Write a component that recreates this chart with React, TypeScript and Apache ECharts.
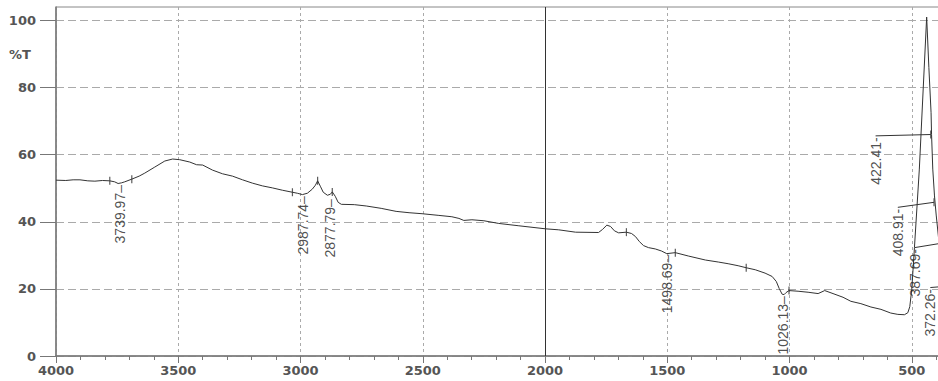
import React, { useEffect, useRef } from 'react';
import * as echarts from 'echarts';

// Spectrum (wavenumber cm-1, %T)
const wavenumbers = [
  4000, 3960, 3930, 3902, 3870, 3841, 3810, 3780, 3760, 3746, 3732, 3719, 3690, 3660, 3637, 3596, 3555, 3523,
  3494, 3453, 3425, 3400, 3360, 3319, 3278, 3237, 3196, 3156, 3115, 3074, 3033, 3013, 2992, 2972, 2952, 2939,
  2930, 2919, 2907, 2890, 2878, 2870, 2858, 2846, 2833, 2780, 2731, 2670, 2609, 2556, 2503, 2434, 2381, 2352,
  2332, 2299, 2250, 2189, 2107, 1998, 1944, 1875, 1781, 1765, 1747, 1732, 1716, 1699, 1667, 1646, 1630, 1614,
  1597, 1577, 1549, 1524, 1502, 1467, 1414, 1344, 1291, 1251, 1210, 1177, 1140, 1100, 1071, 1054, 1042, 1030,
  1022, 1014, 1002, 965, 924, 883, 856, 822, 781, 749, 708, 667, 626, 586, 557, 530, 516, 508, 500, 489, 469,
  439, 430, 421, 419, 414, 407, 400, 388, 380, 372, 360, 350,
];
const transmittance = [
  52.4, 52.3, 52.5, 52.5, 52.2, 52.1, 52.3, 52.2, 51.9, 51.4, 51.6, 51.9, 52.7, 53.6, 54.5, 56.3, 58.1, 58.7,
  58.5, 57.8, 57.0, 56.9, 55.4, 54.3, 53.6, 52.5, 51.5, 50.7, 50.1, 49.4, 48.8, 48.5, 48.1, 48.5, 49.7, 50.9,
  52.2, 50.6, 48.8, 47.9, 48.2, 48.9, 47.6, 45.8, 45.2, 45.1, 44.7, 44.0, 43.1, 42.7, 42.4, 41.9, 41.5, 41.0,
  40.4, 40.6, 40.3, 39.5, 38.8, 37.9, 37.6, 36.9, 36.8, 37.7, 39.0, 38.6, 37.3, 36.7, 36.9, 36.5, 35.6, 34.1,
  32.9, 32.3, 31.9, 31.3, 30.5, 30.8, 29.8, 28.6, 28.0, 27.5, 26.9, 26.3, 25.7, 24.7, 23.7, 22.2, 20.1, 18.4,
  18.3, 18.9, 19.5, 19.3, 19.0, 18.6, 19.5, 18.6, 17.5, 16.3, 15.6, 14.6, 13.9, 12.8, 12.4, 12.3, 12.9, 14.7, 19.8, 32.3, 55.7,
  101.0, 86.0, 72.5, 66.0, 55.7, 47.7, 42.0, 33.5, 27.0, 20.7, 17.0, 15.0,
];

// Range markers (small vertical ticks on the trace)
const markerWn = [3780, 3690, 3033, 2930, 2870, 1667, 1467, 1177, 1002, 422.41, 408.91];
const markerT = [52.2, 52.7, 48.8, 52.2, 48.9, 36.9, 30.8, 26.3, 19.5, 66.0, 45.8];

// Peak labels hanging under the trace
const peakText = ['3739.97', '2987.74', '2877.79', '1498.69', '1026.13'];
const peakWn = [3740, 2988, 2878, 1499, 1026];
const peakT = [51.4, 48.1, 47.2, 30.6, 18.3];

// Peak labels with leaders (right-hand cluster)
const leadText = ['422.41', '408.91', '387.69', '372.26'];
const leadPeakWn = [422.41, 408.91, 387.69, 372.26];
const leadPeakT = [66.0, 45.8, 33.5, 20.7];
const leadLabelWn = [648, 557, 488, 424];
const leadLabelT = [65.6, 44.3, 32.3, 20.4];

const xTicks = { min: 0, max: 4000, interval: 500 };
const yTicks = [0, 20, 40, 60, 80, 100];

const axisColor = '#777';
const labelFont = { color: '#555', fontFamily: 'DejaVu Sans', fontWeight: 'bold' as const, fontSize: 13 };
const peakFont = "'Liberation Sans Narrow', 'Arial Narrow', 'Liberation Sans', sans-serif";

export default function App() {
  const ref = useRef<HTMLDivElement>(null);
  useEffect(() => {
    if (!ref.current) return;
    const chart = echarts.init(ref.current, null, { renderer: 'svg' });
    const spectrum = wavenumbers.map((w, i) => [w, transmittance[i]]);
    const markers = markerWn.map((w, i) => [w, markerT[i]]);
    const peaks = peakWn.map((w, i) => ({ value: [w, peakT[i]], name: peakText[i] }));
    const leadLabels = leadLabelWn.map((w, i) => ({ value: [w, leadLabelT[i]], name: leadText[i] }));
    const leaders = leadLabelWn.map((w, i) => ({
      coords: [
        [w, leadLabelT[i]],
        [leadPeakWn[i], leadPeakT[i]],
      ],
    }));

    chart.setOption({
      animation: false,
      backgroundColor: '#fff',
      grid: {
        left: 56,
        right: 0,
        top: 7,
        bottom: 25,
        show: true,
        borderColor: '#888',
        borderWidth: 1,
        backgroundColor: 'transparent',
      },
      xAxis: {
        type: 'value',
        inverse: true,
        min: xTicks.min,
        max: xTicks.max,
        interval: xTicks.interval,
        axisLine: { show: true, onZero: false, lineStyle: { color: axisColor, width: 1.5 } },
        axisTick: { show: true, length: 7, lineStyle: { color: axisColor } },
        minorTick: { show: true, splitNumber: 5, length: 4, lineStyle: { color: axisColor } },
        axisLabel: {
          margin: 8,
          ...labelFont,
          formatter: (v: number) => (v < 500 ? '' : String(v)),
        },
        splitLine: { show: true, lineStyle: { color: '#aaa', type: [3, 3], width: 1 } },
      },
      yAxis: [
        {
          type: 'value',
          min: 0,
          max: 104,
          interval: 20,
          axisLine: { show: true, onZero: false, lineStyle: { color: axisColor, width: 1.5 } },
          axisTick: { show: true, length: 16, lineStyle: { color: axisColor }, customValues: yTicks },
          axisLabel: {
            margin: 20,
            ...labelFont,
            customValues: yTicks,
            formatter: (v: number) => (v % 20 === 0 ? String(v) : ''),
          },
          splitLine: { show: true, lineStyle: { color: '#aaa', type: [8, 4], width: 1 } },
        },
        {
          type: 'value',
          min: 0,
          max: 104,
          interval: 5,
          position: 'left',
          axisLine: { show: false },
          axisTick: { show: true, length: 7, lineStyle: { color: axisColor } },
          axisLabel: { show: false },
          splitLine: { show: false },
        },
      ],
      graphic: [
        {
          type: 'text',
          left: 9,
          top: 48,
          style: { text: '%T', fill: '#555', font: 'bold 13px "DejaVu Sans"' },
        },
      ],
      series: [
        {
          type: 'line',
          data: spectrum,
          symbol: 'none',
          lineStyle: { color: '#333', width: 1 },
          markLine: {
            silent: true,
            symbol: ['none', 'none'],
            label: { show: false },
            lineStyle: { color: '#333', type: 'solid', width: 1 },
            data: [{ xAxis: 2000 }],
          },
          z: 3,
        },
        {
          type: 'scatter',
          data: markers,
          symbol: 'rect',
          symbolSize: [1.2, 8],
          itemStyle: { color: '#333' },
          z: 4,
        },
        {
          type: 'scatter',
          data: peaks,
          symbolSize: 1,
          itemStyle: { color: 'rgba(0,0,0,0)' },
          label: {
            show: true,
            position: 'bottom',
            distance: 1,
            rotate: 90,
            align: 'right',
            verticalAlign: 'middle',
            formatter: (p: any) => p.name + '–',
            color: '#222',
            fontFamily: peakFont,
            fontSize: 14,
          },
          z: 5,
        },
        {
          type: 'scatter',
          data: leadLabels,
          symbolSize: 1,
          itemStyle: { color: 'rgba(0,0,0,0)' },
          label: {
            show: true,
            position: 'bottom',
            distance: 1,
            rotate: 90,
            align: 'right',
            verticalAlign: 'middle',
            formatter: (p: any) => p.name + '-',
            color: '#222',
            fontFamily: peakFont,
            fontSize: 14,
          },
          z: 5,
        },
        {
          type: 'lines',
          coordinateSystem: 'cartesian2d',
          data: leaders,
          lineStyle: { color: '#333', width: 1, opacity: 1 },
          z: 4,
        },
      ],
    });
    return () => chart.dispose();
  }, []);

  return (
    <div
      style={{
        position: 'fixed',
        left: 0,
        top: 0,
        width: 938,
        height: 381,
        overflow: 'hidden',
        background: '#fff',
      }}
    >
      <div ref={ref} style={{ width: 1037, height: 381 }} />
    </div>
  );
}
